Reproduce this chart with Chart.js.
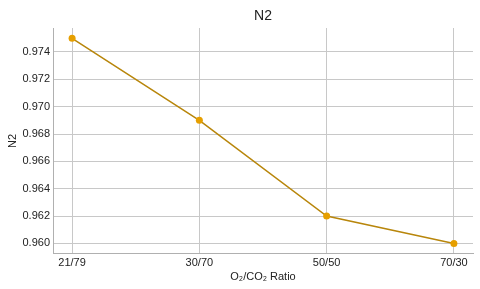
<!DOCTYPE html>
<html>
<head>
<meta charset="utf-8">
<script src="https://cdn.jsdelivr.net/npm/chart.js@4"></script>
<style>
  html, body { margin: 0; padding: 0; background: #fff; }
  #wrap { width: 480px; height: 289px; }
</style>
</head>
<body>
<div id="wrap"><canvas id="n2Chart" width="480" height="289"></canvas></div>
<script>
// data
const ratios = ['21/79', '30/70', '50/50', '70/30'];
const n2Values = [0.975, 0.969, 0.962, 0.960];
const yTicks = [0.960, 0.962, 0.964, 0.966, 0.968, 0.970, 0.972, 0.974];

const FONT = '"Liberation Sans", Arial, sans-serif';
const gridColor = '#c8c8c8';
const titleText = 'N2';

const points = ratios.map((r, i) => ({ x: i, y: n2Values[i] }));

// title centred over the plot area (not the whole canvas)
const plotTitle = {
    id: 'plotTitle',
    afterDraw(chart) {
        const { ctx, chartArea } = chart;
        ctx.save();
        ctx.fillStyle = '#222';
        ctx.font = '14px ' + FONT;
        ctx.textAlign = 'center';
        ctx.textBaseline = 'middle';
        ctx.fillText(titleText, (chartArea.left + chartArea.right) / 2, 16.5);
        ctx.restore();
    }
};

new Chart(document.getElementById('n2Chart'), {
    type: 'line',
    data: {
        datasets: [{
            label: 'N2',
            data: points,
            borderColor: '#B8860B',
            borderWidth: 1.5,
            backgroundColor: '#E69F00',
            pointBackgroundColor: '#E69F00',
            pointBorderColor: '#E69F00',
            pointRadius: 3.5,
            pointBorderWidth: 0,
            tension: 0,
            fill: false
        }]
    },
    plugins: [plotTitle],
    options: {
        responsive: false,
        animation: false,
        layout: { padding: { left: 0, right: 7, top: 28, bottom: 0 } },
        plugins: {
            legend: { display: false },
            tooltip: { enabled: false },
            title: { display: false }
        },
        scales: {
            x: {
                type: 'linear',
                min: -0.15,
                max: 3.15,
                afterBuildTicks: axis => {
                    axis.ticks = ratios.map((r, i) => ({ value: i }));
                },
                ticks: {
                    callback: v => ratios[v],
                    color: '#222',
                    font: { family: FONT, size: 11 },
                    padding: 3,
                    maxRotation: 0
                },
                grid: { color: gridColor, drawTicks: false },
                border: { color: '#b0b0b0' },
                title: {
                    display: true,
                    text: 'O\u2082/CO\u2082 Ratio',
                    color: '#222',
                    font: { family: FONT, size: 11 },
                    padding: { top: 0, bottom: 5 }
                },
                afterFit: axis => { axis.height = 35.3; }
            },
            y: {
                min: 0.95925,
                max: 0.97575,
                afterBuildTicks: axis => {
                    axis.ticks = yTicks.map(v => ({ value: v }));
                },
                ticks: {
                    callback: v => v.toFixed(3),
                    color: '#222',
                    font: { family: FONT, size: 11 },
                    padding: 3
                },
                grid: { color: gridColor, drawTicks: false },
                border: { color: '#b0b0b0' },
                title: {
                    display: true,
                    text: 'N2',
                    color: '#222',
                    font: { family: FONT, size: 11 },
                    padding: { top: 6, bottom: 0 }
                },
                afterFit: axis => { axis.width = 53; }
            }
        }
    }
});
</script>
</body>
</html>
